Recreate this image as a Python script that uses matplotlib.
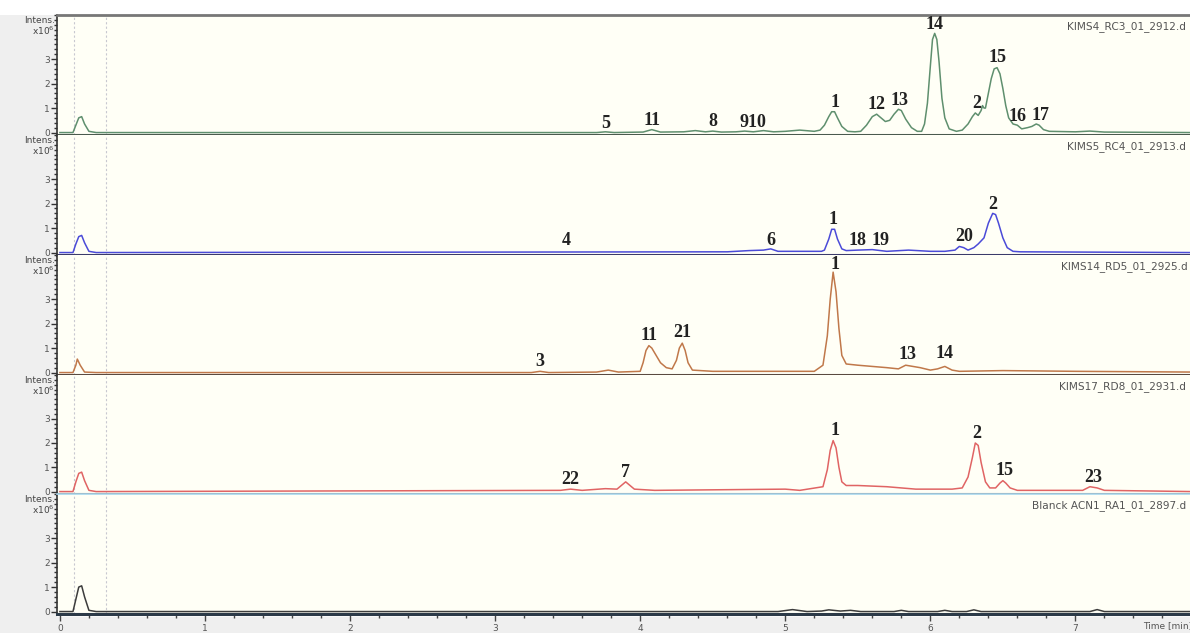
import matplotlib
matplotlib.use("Agg")
import matplotlib.pyplot as plt
from matplotlib.ticker import MultipleLocator

# ---------------- data (retention time [min], intensity x10^6) ----------------
t1 = [0.0, 0.09, 0.11, 0.13, 0.15, 0.17, 0.20, 0.25, 3.70, 3.76, 3.82, 4.02, 4.08,
      4.14, 4.30, 4.38, 4.45, 4.50, 4.56, 4.66, 4.72, 4.78, 4.85, 4.92, 5.00, 5.10,
      5.20, 5.24, 5.27, 5.30, 5.32, 5.34, 5.36, 5.39, 5.43, 5.48, 5.52, 5.56, 5.60,
      5.63, 5.66, 5.69, 5.72, 5.75, 5.78, 5.80, 5.83, 5.87, 5.91, 5.94, 5.96, 5.98,
      6.00, 6.015, 6.03, 6.045, 6.06, 6.08, 6.10, 6.13, 6.18, 6.22, 6.26, 6.29, 6.31,
      6.33, 6.35, 6.36, 6.37, 6.38, 6.40, 6.42, 6.44, 6.46, 6.48, 6.50, 6.52, 6.54,
      6.57, 6.60, 6.63, 6.67, 6.70, 6.73, 6.75, 6.78, 6.82, 7.00, 7.10, 7.20, 7.80]
y1 = [0.0, 0.0, 0.3, 0.6, 0.65, 0.35, 0.05, 0.0, 0.0, 0.03, 0.0, 0.02, 0.12,
      0.02, 0.03, 0.08, 0.03, 0.06, 0.02, 0.03, 0.06, 0.03, 0.08, 0.03, 0.05, 0.10,
      0.05, 0.10, 0.30, 0.65, 0.85, 0.85, 0.60, 0.25, 0.05, 0.03, 0.05, 0.30, 0.65,
      0.75, 0.60, 0.45, 0.50, 0.75, 0.95, 0.90, 0.55, 0.20, 0.05, 0.05, 0.35, 1.20,
      2.70, 3.80, 4.05, 3.80, 2.90, 1.40, 0.60, 0.15, 0.05, 0.10, 0.35, 0.65, 0.80,
      0.70, 0.90, 1.10, 1.00, 1.00, 1.60, 2.20, 2.60, 2.65, 2.40, 1.80, 1.10, 0.60,
      0.35, 0.30, 0.15, 0.20, 0.25, 0.35, 0.30, 0.12, 0.05, 0.03, 0.06, 0.02, 0.0]

t2 = [0.0, 0.09, 0.11, 0.13, 0.15, 0.17, 0.20, 0.25, 4.60, 4.75, 4.85, 4.90, 4.95,
      5.25, 5.27, 5.30, 5.32, 5.34, 5.36, 5.39, 5.42, 5.50, 5.60, 5.70, 5.85, 6.00,
      6.10, 6.17, 6.20, 6.23, 6.26, 6.30, 6.33, 6.37, 6.40, 6.43, 6.45, 6.47, 6.50,
      6.53, 6.57, 6.62, 7.80]
y2 = [0.0, 0.0, 0.35, 0.65, 0.7, 0.4, 0.05, 0.0, 0.03, 0.08, 0.10, 0.15, 0.05,
      0.05, 0.10, 0.55, 0.95, 0.95, 0.55, 0.15, 0.08, 0.10, 0.12, 0.05, 0.10, 0.05,
      0.05, 0.10, 0.25, 0.20, 0.10, 0.20, 0.35, 0.60, 1.20, 1.60, 1.55, 1.20, 0.60,
      0.20, 0.05, 0.03, 0.0]

t3 = [0.0, 0.09, 0.11, 0.12, 0.14, 0.17, 0.25, 3.25, 3.31, 3.37, 3.70, 3.78, 3.85,
      4.00, 4.02, 4.04, 4.06, 4.08, 4.11, 4.14, 4.18, 4.22, 4.25, 4.27, 4.29, 4.31,
      4.33, 4.36, 4.50, 4.80, 5.20, 5.26, 5.29, 5.31, 5.33, 5.35, 5.37, 5.39, 5.42,
      5.50, 5.60, 5.70, 5.78, 5.83, 5.88, 5.93, 6.00, 6.05, 6.10, 6.15, 6.20, 6.50,
      7.00, 7.80]
y3 = [0.0, 0.0, 0.3, 0.55, 0.3, 0.02, 0.0, 0.0, 0.05, 0.0, 0.02, 0.10, 0.02,
      0.05, 0.40, 0.90, 1.10, 1.00, 0.70, 0.40, 0.20, 0.15, 0.50, 1.00, 1.20, 0.90,
      0.40, 0.10, 0.05, 0.05, 0.05, 0.30, 1.50, 3.00, 4.10, 3.30, 1.80, 0.70, 0.35,
      0.30, 0.25, 0.20, 0.15, 0.30, 0.25, 0.20, 0.10, 0.15, 0.25, 0.10, 0.05, 0.08,
      0.05, 0.02]

t4 = [0.0, 0.09, 0.11, 0.13, 0.15, 0.17, 0.20, 0.25, 3.45, 3.52, 3.60, 3.76, 3.84,
      3.87, 3.90, 3.93, 3.96, 4.10, 5.00, 5.10, 5.26, 5.29, 5.31, 5.33, 5.35, 5.37,
      5.39, 5.42, 5.50, 5.70, 5.90, 6.15, 6.22, 6.26, 6.29, 6.31, 6.33, 6.35, 6.38,
      6.41, 6.45, 6.48, 6.50, 6.52, 6.55, 6.60, 7.05, 7.10, 7.15, 7.20, 7.80]
y4 = [0.0, 0.0, 0.4, 0.75, 0.8, 0.45, 0.05, 0.0, 0.05, 0.10, 0.05, 0.12, 0.10,
      0.25, 0.40, 0.25, 0.10, 0.05, 0.10, 0.05, 0.20, 0.90, 1.70, 2.10, 1.80, 1.00,
      0.40, 0.25, 0.25, 0.20, 0.10, 0.10, 0.15, 0.60, 1.40, 2.00, 1.90, 1.20, 0.40,
      0.15, 0.15, 0.35, 0.45, 0.35, 0.15, 0.05, 0.05, 0.20, 0.15, 0.05, 0.0]

t5 = [0.0, 0.09, 0.11, 0.13, 0.15, 0.17, 0.20, 0.25, 4.95, 5.05, 5.15, 5.25, 5.30,
      5.38, 5.45, 5.52, 5.75, 5.80, 5.85, 6.05, 6.10, 6.15, 6.25, 6.30, 6.35, 7.10,
      7.15, 7.20, 7.80]
y5 = [0.0, 0.0, 0.5, 1.0, 1.05, 0.6, 0.05, 0.0, 0.0, 0.08, 0.0, 0.02, 0.07,
      0.02, 0.05, 0.0, 0.0, 0.05, 0.0, 0.0, 0.05, 0.0, 0.0, 0.07, 0.0, 0.0,
      0.08, 0.0, 0.0]

times = [t1, t2, t3, t4, t5]
intens = [y1, y2, y3, y4, y5]

sample_names = ["KIMS4_RC3_01_2912.d", "KIMS5_RC4_01_2913.d", "KIMS14_RD5_01_2925.d",
                "KIMS17_RD8_01_2931.d", "Blanck ACN1_RA1_01_2897.d"]
name_x = [6.94, 6.94, 6.90, 6.89, 6.70]

# peak labels: (text, time, y-bottom)
labels1 = [("5", 3.76, 0.03), ("11", 4.08, 0.14), ("8", 4.50, 0.10), ("910", 4.78, 0.08),
           ("1", 5.34, 0.90), ("12", 5.63, 0.80), ("13", 5.79, 0.97), ("14", 6.03, 4.08),
           ("2", 6.32, 0.85), ("15", 6.46, 2.70), ("16", 6.60, 0.30), ("17", 6.76, 0.35)]
labels2 = [("4", 3.49, 0.15), ("6", 4.90, 0.15), ("1", 5.33, 1.00), ("18", 5.50, 0.15),
           ("19", 5.66, 0.15), ("20", 6.23, 0.30), ("2", 6.43, 1.62)]
labels3 = [("3", 3.31, 0.12), ("11", 4.06, 1.15), ("21", 4.29, 1.28), ("1", 5.34, 4.05),
           ("13", 5.84, 0.38), ("14", 6.10, 0.42)]
labels4 = [("22", 3.52, 0.15), ("7", 3.90, 0.45), ("1", 5.34, 2.15), ("2", 6.32, 2.05),
           ("15", 6.51, 0.50), ("23", 7.12, 0.22)]
all_labels = [labels1, labels2, labels3, labels4, []]

colors = ["#5f8f6e", "#4b4bd8", "#c0784a", "#e06464", "#3c3c3c"]
spine_colors = ["#4a5a4e", "#3b3b6a", "#5a4a40", "#6a4a4a", "#2c3a48"]
yticks = [0, 1, 2, 3]
xticks = [0, 1, 2, 3, 4, 5, 6, 7]

# ---------------- figure ----------------
W, H = 1190, 633
fig = plt.figure(figsize=(W / 100, H / 100), dpi=100)
fig.patch.set_facecolor("#ffffff")
fig.add_artist(plt.Rectangle((0, 0), 57 / W, 1 - 15 / H, transform=fig.transFigure,
                             facecolor="#efefef", edgecolor="none", zorder=-5))
fig.add_artist(plt.Rectangle((0, 0), 1, 16 / H, transform=fig.transFigure,
                             facecolor="#efefef", edgecolor="none", zorder=-5))

left_px, right_px = 57, 1190
tops = [15, 135, 255, 375, 494]
bots = [135, 255, 375, 494, 614]
XMIN, XMAX = -0.02, 7.79
YMIN, YMAX = -0.1, 4.8

axes = []
for i in range(5):
    ax = fig.add_axes([left_px / W, 1 - bots[i] / H, (right_px - left_px) / W,
                       (bots[i] - tops[i]) / H])
    ax.set_facecolor("#fffff6")
    ax.set_xlim(XMIN, XMAX)
    ax.set_ylim(YMIN, YMAX)
    ax.plot(times[i], intens[i], color=colors[i], lw=1.1, zorder=3)
    for xv in (0.10, 0.32):
        ax.axvline(xv, color="#c8c8d0", lw=0.8, ls=(0, (2, 2)), zorder=1)
    for s in ("top", "right"):
        ax.spines[s].set_visible(False)
    ax.spines["left"].set_color("#333333")
    ax.spines["left"].set_linewidth(1.2)
    ax.spines["bottom"].set_color(spine_colors[i])
    ax.spines["bottom"].set_linewidth(2.2)
    ax.set_yticks(yticks)
    ax.yaxis.set_minor_locator(MultipleLocator(0.2))
    ax.tick_params(axis="y", which="major", length=4, width=1, labelsize=6.5,
                   colors="#333333", pad=1, labelcolor="#555555")
    ax.tick_params(axis="y", which="minor", length=2.5, width=1, colors="#333333")
    ax.set_xticks(xticks)
    ax.xaxis.set_minor_locator(MultipleLocator(0.2))
    if i < 4:
        ax.tick_params(axis="x", which="both", bottom=False, labelbottom=False)
    else:
        ax.tick_params(axis="x", which="major", length=5, width=1, labelsize=6.5,
                       colors="#444444", labelcolor="#555555", pad=2)
        ax.tick_params(axis="x", which="minor", length=3, width=1, colors="#444444")
    ax.text(name_x[i], YMAX - 0.25, sample_names[i], fontsize=7.6, color="#555555",
            ha="left", va="top", clip_on=True, zorder=4)
    for txt, tx, ty in all_labels[i]:
        ax.text(tx, ty, txt, ha="center", va="bottom", fontsize=13,
                fontweight="bold", family="Liberation Serif", color="#222222",
                zorder=5)
    fig.text((left_px - 2) / W, 1 - (tops[i] + 1) / H, "Intens.", ha="right",
             va="top", fontsize=6.5, color="#444444")
    fig.text((left_px - 2) / W, 1 - (tops[i] + 10) / H, r"x10$^6$", ha="right",
             va="top", fontsize=6.5, color="#444444")
    axes.append(ax)

axes[0].spines["top"].set_visible(True)
axes[0].spines["top"].set_color("#777777")
axes[0].spines["top"].set_linewidth(2.0)
axes[4].spines["top"].set_visible(True)
axes[4].spines["top"].set_color("#a8d8ee")
axes[4].spines["top"].set_linewidth(1.2)

fig.text(1143 / W, 1 - 626 / H, "Time [min]", ha="left", va="center",
         fontsize=6.5, color="#555555")

fig.savefig("out.png", dpi=100, facecolor=fig.get_facecolor())
